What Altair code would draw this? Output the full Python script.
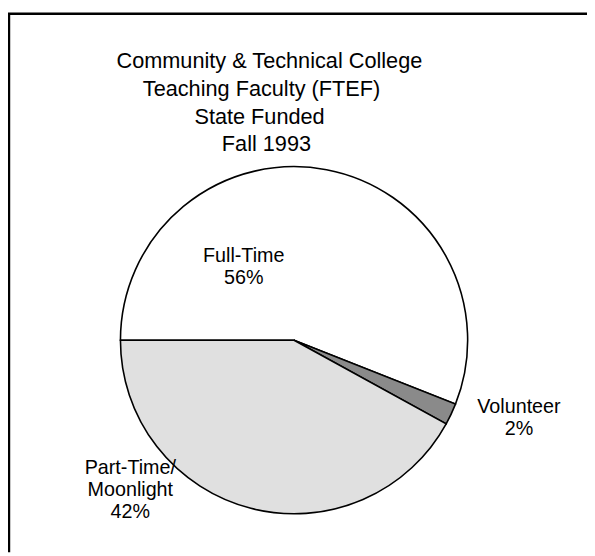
import math
import altair as alt
import pandas as pd

# ---- data ----
categories = ["Full-Time", "Volunteer", "Part-Time/\nMoonlight"]
percents = [56, 2, 42]
title_lines = [
    "Community & Technical College",
    "Teaching Faculty (FTEF)",
    "State Funded",
    "Fall 1993",
]

# ---- layout / style (plot coordinates) ----
W, H = 587, 548
CX, CY, R = 290, 333, 176
slice_colors = ["#ffffff", "#8a8a8a", "#e0e0e0"]
label_pos = [(239, 254), (518, 407), (124, 469)]
title_pos = [(265, 57), (257, 85), (255, 114), (262, 141)]
FONT = "Liberation Sans"

df = pd.DataFrame({"category": categories, "percent": percents, "idx": list(range(len(categories)))})
df["label"] = df["category"] + "\n" + df["percent"].astype(str) + "%"

base = alt.Chart(df)

pie = base.mark_arc(outerRadius=R, stroke="black", strokeWidth=1.6).encode(
    theta=alt.Theta("percent:Q", stack=True,
                    scale=alt.Scale(range=[1.5 * math.pi, 3.5 * math.pi], nice=False)),
    order=alt.Order("idx:Q"),
    color=alt.Color("category:N",
                    scale=alt.Scale(domain=categories, range=slice_colors),
                    legend=None),
    x=alt.value(CX),
    y=alt.value(CY),
)

layers = [pie]

for i, (px, py) in enumerate(label_pos):
    layers.append(
        base.transform_filter(alt.datum.idx == i)
        .mark_text(align="center", baseline="alphabetic", lineBreak="\n",
                   lineHeight=22, font=FONT, fontSize=20, color="black")
        .encode(text="label:N", x=alt.value(px), y=alt.value(py))
    )

tdf = pd.DataFrame({"line": title_lines, "i": list(range(len(title_lines)))})
for i, (px, py) in enumerate(title_pos):
    layers.append(
        alt.Chart(tdf).transform_filter(alt.datum.i == i)
        .mark_text(align="center", baseline="alphabetic", font=FONT,
                   fontSize=22, color="black")
        .encode(text="line:N", x=alt.value(px), y=alt.value(py))
    )

one = alt.Chart(pd.DataFrame({"a": [0]}))
left_rule = one.mark_rule(color="black", strokeWidth=2.5).encode(
    x=alt.value(1), y=alt.value(2), y2=alt.value(H))
top_rule = one.mark_rule(color="black", strokeWidth=2.5).encode(
    x=alt.value(0), x2=alt.value(W), y=alt.value(2))
layers += [left_rule, top_rule]

chart = alt.layer(*layers).properties(
    width=W, height=H, padding=0,
    autosize=alt.AutoSizeParams(type="none"),
    background="white",
).configure_view(stroke=None)

chart.save("out.html", embed_options={"renderer": "svg", "actions": False})
